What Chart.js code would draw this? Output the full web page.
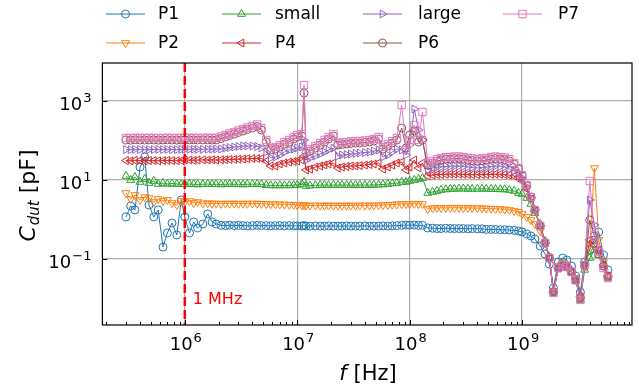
<!DOCTYPE html>
<html>
<head>
<meta charset="utf-8">
<script src="https://cdn.jsdelivr.net/npm/chart.js@4.4.0/dist/chart.umd.min.js"></script>
<style>
  html, body { margin: 0; padding: 0; background: #fff; }
  #wrap { width: 639px; height: 387px; }
</style>
</head>
<body>
<div id="wrap"><canvas id="cdutChart" width="639" height="387"></canvas></div>
<script>
// ===============================
// DATA (frequency in Hz, capacitance in pF)
// ===============================
const freqs = [
  3.0e5, 3.3e5, 3.6e5, 4.0e5, 4.4e5, 4.8e5, 5.3e5, 5.8e5, 6.4e5, 7.0e5, 7.7e5, 8.5e5, 9.3e5,
  1.0e6, 1.1e6, 1.2e6, 1.3e6, 1.45e6, 1.6e6, 1.75e6, 1.9e6, 2.1e6, 2.3e6, 2.5e6, 2.75e6, 3.0e6, 3.3e6, 3.6e6, 4.0e6, 4.4e6, 4.8e6, 5.3e6, 5.8e6, 6.4e6, 7.0e6, 7.7e6, 8.5e6, 9.3e6,
  1.0e7, 1.1e7, 1.15e7, 1.2e7, 1.3e7, 1.45e7, 1.6e7, 1.75e7, 1.9e7, 2.1e7, 2.3e7, 2.5e7, 2.75e7, 3.0e7, 3.3e7, 3.6e7, 4.0e7, 4.4e7, 4.8e7, 5.3e7, 5.8e7, 6.4e7, 7.0e7, 7.7e7, 8.5e7, 9.3e7,
  1.0e8, 1.1e8, 1.2e8, 1.3e8, 1.45e8, 1.6e8, 1.75e8, 1.9e8, 2.1e8, 2.3e8, 2.5e8, 2.75e8, 3.0e8, 3.3e8, 3.6e8, 4.0e8, 4.4e8, 4.8e8, 5.3e8, 5.8e8, 6.4e8, 7.0e8, 7.7e8, 8.5e8, 9.3e8,
  1.0e9, 1.1e9, 1.2e9, 1.3e9, 1.45e9, 1.6e9, 1.75e9, 1.9e9, 2.1e9, 2.3e9, 2.5e9, 2.75e9, 3.0e9, 3.3e9, 3.6e9, 4.0e9, 4.4e9, 4.8e9, 5.3e9, 5.8e9
];

const p1 = [
  1.16, 2.2, 1.74, 21.3, 38, 2.33, 1.16, 1.74, 0.2, 0.455, 0.815, 0.405, 3.12,
  1.16, 0.455, 0.864, 0.609, 0.769, 1.38, 0.864, 0.769, 0.71, 0.70, 0.72, 0.70, 0.71, 0.70, 0.69, 0.70, 0.71, 0.70, 0.70, 0.69, 0.70, 0.70, 0.69, 0.70, 0.69,
  0.69, 0.68, 0.70, 0.68, 0.68, 0.69, 0.68, 0.68, 0.69, 0.68, 0.68, 0.68, 0.69, 0.68, 0.68, 0.68, 0.69, 0.68, 0.68, 0.68, 0.69, 0.68, 0.69, 0.70, 0.71, 0.72,
  0.72, 0.72, 0.71, 0.71, 0.61, 0.60, 0.59, 0.59, 0.60, 0.59, 0.59, 0.59, 0.59, 0.58, 0.59, 0.58, 0.58, 0.56, 0.56, 0.56, 0.55, 0.55, 0.54, 0.53, 0.51,
  0.483, 0.43, 0.382, 0.321, 0.213, 0.134, 0.074, 0.0185, 0.084, 0.106, 0.094, 0.066, 0.037, 0.0146, 0.084, 0.169, 0.303, 0.483, 0.126, 0.053
];

const p2 = [
  4.69, 3.3, 4.17, 3.12, 3.71, 3.5, 2.77, 3.3, 2.94, 3.12, 2.62, 2.33, 2.94,
  2.77, 2.94, 2.62, 2.77, 2.55, 2.6, 2.52, 2.55, 2.5, 2.54, 2.52, 2.55, 2.5, 2.53, 2.52, 2.55, 2.53, 2.5, 2.48, 2.45, 2.44, 2.42, 2.4, 2.38, 2.36,
  2.3, 2.28, 2.3, 2.27, 2.26, 2.27, 2.25, 2.26, 2.27, 2.25, 2.26, 2.25, 2.27, 2.26, 2.25, 2.27, 2.26, 2.28, 2.27, 2.3, 2.32, 2.35, 2.38, 2.42, 2.47, 2.47,
  2.48, 2.5, 2.48, 2.47, 1.84, 1.95, 1.96, 1.97, 1.96, 1.97, 1.98, 1.97, 1.96, 1.96, 1.95, 1.94, 1.93, 1.9, 1.88, 1.86, 1.84, 1.8, 1.74, 1.64, 1.55,
  1.38, 1.16, 0.97, 0.769, 0.512, 0.254, 0.106, 0.0155, 0.066, 0.079, 0.07, 0.05, 0.031, 0.011, 0.07, 0.226, 20.1, 0.303, 0.084, 0.039
];

const small = [
  12.6, 10, 11.9, 8.9, 10.6, 8.39, 9.43, 7.92, 8.39, 7.92, 8.15, 7.92, 7.8,
  7.8, 7.9, 7.8, 7.7, 7.8, 7.9, 7.8, 7.8, 7.7, 7.8, 7.9, 7.8, 7.8, 7.7, 7.8, 7.8, 7.9, 7.8, 7.4, 7.3, 7.25, 7.3, 7.25, 7.3, 7.4,
  7.47, 7.92, 8.9, 7.05, 7.2, 7.3, 7.4, 7.47, 7.4, 7.5, 7.4, 7.47, 7.5, 7.4, 7.47, 7.5, 7.4, 7.47, 7.5, 7.6, 7.7, 7.92, 8.15, 8.39, 8.9, 8.9,
  9.43, 10, 10.6, 11.2, 4.69, 4.97, 5.27, 5.58, 5.75, 5.92, 5.95, 6.0, 6.05, 5.95, 5.9, 5.95, 6.0, 5.95, 5.9, 5.85, 5.8, 5.75, 5.58, 5.27, 4.69,
  4.42, 3.5, 2.47, 1.46, 0.769, 0.286, 0.112, 0.0155, 0.059, 0.07, 0.063, 0.047, 0.028, 0.0092, 0.053, 0.106, 0.169, 0.126, 0.07, 0.037
];

const p4 = [
  31, 30.5, 31.5, 31, 30.8, 31.2, 31, 30.5, 31, 31.3, 31, 30.8, 31,
  32, 32, 31.5, 32, 32.3, 32, 32.5, 32, 32.3, 32.5, 33, 33.2, 33.5, 34, 34.5, 35, 35, 35, 30.2, 22.6, 22.6, 25.4, 26.9, 28.5, 29.3,
  30.2, 32, 40.4, 17.9, 18.9, 21.3, 22.6, 23.9, 25.4, 26.9, 20.1, 21.3, 22, 22.6, 22.6, 23.2, 23.9, 24.6, 25.4, 26.9, 18.9, 21.3, 23.9, 26.9, 28.5, 17.9,
  21.3, 32, 20.1, 26.9, 12.6, 13.3, 13.7, 13.8, 13.9, 14, 14.1, 14, 13.9, 13.8, 13.7, 13.6, 13.7, 13.8, 13.9, 14, 13.9, 13.7, 13.3, 12.6, 11.9,
  9.43, 5.92, 3.3, 1.64, 0.685, 0.254, 0.106, 0.0146, 0.059, 0.07, 0.063, 0.047, 0.031, 0.011, 0.066, 0.303, 0.226, 0.169, 0.07, 0.037
];

const large = [
  59, 58.5, 59.5, 59, 58.8, 59.2, 59, 59.5, 59, 59.3, 59, 58.8, 59.5,
  59.5, 59.8, 60, 59.5, 60, 60.3, 60, 60.5, 60.8, 64.5, 66.4, 68.4, 70.4, 72.5, 72.5, 72.5, 70.4, 64.5, 51, 36, 38.1, 42.9, 51, 57.4, 60.8,
  64.5, 68.4, 103, 32, 36, 40.4, 45.4, 51.1, 57.4, 64.5, 40.4, 42.9, 44, 45.4, 47, 48.2, 49.6, 51.1, 54.1, 57.4, 38.1, 42.9, 51.1, 60.8, 57.4, 42.9,
  76.8, 627, 184, 103, 17.9, 20.1, 21.3, 21.3, 22, 22, 22.6, 22.6, 22, 21.3, 20.7, 20.1, 20.7, 21.3, 22, 22.6, 22, 21.3, 18.9, 16.8, 15,
  11.2, 6.65, 3.5, 1.74, 0.685, 0.254, 0.106, 0.0146, 0.059, 0.07, 0.063, 0.047, 0.031, 0.0103, 0.07, 3.12, 0.726, 0.169, 0.066, 0.037
];

const p6 = [
  103, 102, 104, 103, 102.5, 103.5, 103, 102, 103, 104, 103, 102.5, 103,
  103, 103.5, 104, 103, 103.5, 104, 103, 103.5, 112, 122.5, 134, 146, 160, 174, 190, 207, 226, 184, 91.5, 57.4, 60.8, 68.4, 81.4, 91.5, 109,
  122.5, 130, 1595, 48.2, 54.1, 64.5, 76.8, 91.5, 109, 130, 76.8, 79, 81.4, 84, 86.3, 86.3, 89, 91.5, 97, 109, 60.8, 72.5, 86.3, 103, 207, 64.5,
  138, 174, 91.5, 103, 23.9, 26.9, 30.2, 32, 33.9, 33.9, 35, 35, 33.9, 32, 31, 30.2, 31, 32, 33.9, 35, 33.9, 33, 30.2, 25.4, 18.9,
  12.6, 7.05, 3.71, 1.74, 0.685, 0.254, 0.106, 0.0146, 0.059, 0.07, 0.063, 0.047, 0.029, 0.0103, 0.066, 0.97, 0.382, 0.134, 0.066, 0.035
];

const p7 = [
  116, 115, 117, 116, 115.5, 116.5, 116, 115, 116, 117, 116, 115.5, 116,
  116, 116.5, 117, 116, 116.5, 117, 116, 116.5, 126, 138, 150, 164, 179, 195, 213, 233, 254, 207, 103, 64.5, 68.4, 76.8, 91.5, 103, 122.5,
  138, 146, 2540, 54.1, 60.8, 72.5, 86.3, 103, 122.5, 146, 86.3, 89, 91.5, 94, 97, 97, 100, 103, 109, 122.5, 68.4, 81.4, 97, 115.6, 792, 57.4,
  103, 247, 103, 527, 26.9, 30.2, 33.9, 36, 38.1, 38.1, 39.2, 39.2, 38.1, 36, 35, 33.9, 35, 36, 38.1, 39.2, 38.1, 37, 33.9, 26.9, 20.1,
  13.3, 7.47, 3.71, 1.74, 0.685, 0.254, 0.106, 0.0138, 0.059, 0.07, 0.063, 0.047, 0.029, 0.0092, 0.07, 9.43, 0.405, 0.15, 0.059, 0.033
];

// ticks / labels
const xDecades = [6, 7, 8, 9];
const yDecades = [-1, 1, 3];
const markerFreq = 1e6;
const markerLabel = '1 MHz';

// ===============================
// STYLE
// ===============================
const FONT = '"DejaVu Sans", sans-serif';

const seriesDefs = [
  { label: 'P1',    data: p1,    color: '#1f77b4', style: 'circle',   rot: 0,   r: 4 },
  { label: 'P2',    data: p2,    color: '#ff7f0e', style: 'triangle', rot: 180, r: 4.6 },
  { label: 'small', data: small, color: '#2ca02c', style: 'triangle', rot: 0,   r: 4.6 },
  { label: 'P4',    data: p4,    color: '#d62728', style: 'triangle', rot: 270, r: 4.6 },
  { label: 'large', data: large, color: '#9467bd', style: 'triangle', rot: 90,  r: 4.6 },
  { label: 'P6',    data: p6,    color: '#8c564b', style: 'circle',   rot: 0,   r: 4 },
  { label: 'P7',    data: p7,    color: '#e377c2', style: 'rect',     rot: 0,   r: 5.2 }
];

const datasets = seriesDefs.map((s, i) => ({
  label: s.label,
  data: freqs.map((f, k) => ({ x: f, y: s.data[k] })),
  borderColor: s.color,
  backgroundColor: 'rgba(0,0,0,0)',
  borderWidth: 1,
  pointStyle: s.style,
  pointRotation: s.rot,
  pointRadius: s.r,
  pointBorderWidth: 1,
  pointBackgroundColor: 'rgba(0,0,0,0)',
  pointBorderColor: s.color,
  tension: 0,
  fill: false,
  order: seriesDefs.length - i
}));

// "10" com expoente em sobrescrito
function drawPow(ctx, exp, x, y, align) {
  ctx.font = '18px ' + FONT;
  const wBase = ctx.measureText('10').width;
  ctx.font = '13px ' + FONT;
  const wExp = ctx.measureText(exp).width;
  const total = wBase + 1 + wExp;
  const x0 = align === 'right' ? x - total : x - total / 2;
  ctx.textAlign = 'left';
  ctx.textBaseline = 'alphabetic';
  ctx.font = '18px ' + FONT;
  ctx.fillText('10', x0, y);
  ctx.font = '13px ' + FONT;
  ctx.fillText(exp, x0 + wBase + 1, y - 8);
}

function expText(d) {
  return String(d).replace('-', '\u2212');
}

// ===============================
// PLUGIN: axes, ticks, legend, marker line
// ===============================
const decorPlugin = {
  id: 'decor',
  afterDatasetsDraw(chart) {
    const ctx = chart.ctx;
    const a = chart.chartArea;
    const xs = chart.scales.x;
    const px = xs.getPixelForValue(markerFreq);
    ctx.save();
    ctx.strokeStyle = '#ff0000';
    ctx.lineWidth = 2.5;
    ctx.setLineDash([9, 4]);
    ctx.beginPath();
    ctx.moveTo(px, a.top);
    ctx.lineTo(px, a.bottom);
    ctx.stroke();
    ctx.setLineDash([]);
    ctx.fillStyle = '#ff0000';
    ctx.font = '16px ' + FONT;
    ctx.textAlign = 'left';
    ctx.textBaseline = 'alphabetic';
    ctx.fillText(markerLabel, px + 8, 304);
    ctx.restore();
  },
  afterDraw(chart) {
    const ctx = chart.ctx;
    const a = chart.chartArea;
    const xs = chart.scales.x;
    const ys = chart.scales.y;
    ctx.save();

    // frame
    ctx.strokeStyle = '#000';
    ctx.lineWidth = 1.2;
    ctx.strokeRect(a.left, a.top, a.right - a.left, a.bottom - a.top);

    // x ticks (inward)
    ctx.lineWidth = 1;
    ctx.beginPath();
    for (let d = 5; d <= 9; d++) {
      for (let m = 1; m <= 9; m++) {
        const v = m * Math.pow(10, d);
        if (v < xs.min || v > xs.max) continue;
        const p = Math.round(xs.getPixelForValue(v)) + 0.5;
        const len = m === 1 ? 5 : 3;
        ctx.moveTo(p, a.bottom);
        ctx.lineTo(p, a.bottom - len);
      }
    }
    // y ticks
    yDecades.forEach(d => {
      const p = Math.round(ys.getPixelForValue(Math.pow(10, d))) + 0.5;
      ctx.moveTo(a.left, p);
      ctx.lineTo(a.left + 5, p);
    });
    ctx.stroke();

    // tick labels
    ctx.fillStyle = '#000';
    xDecades.forEach(d => {
      drawPow(ctx, expText(d), xs.getPixelForValue(Math.pow(10, d)) + 1, 349.5, 'center');
    });
    yDecades.forEach(d => {
      const p = ys.getPixelForValue(Math.pow(10, d));
      drawPow(ctx, expText(d), a.left - 11, p + 9, 'right');
    });

    // x title: f [Hz]
    ctx.font = 'italic 21px ' + FONT;
    const wf = ctx.measureText('f').width;
    ctx.font = '21px ' + FONT;
    const wr = ctx.measureText(' [Hz]').width;
    let x0 = 368 - (wf + wr) / 2;
    ctx.font = 'italic 21px ' + FONT;
    ctx.fillText('f', x0, 380);
    ctx.font = '21px ' + FONT;
    ctx.fillText(' [Hz]', x0 + wf, 380);

    // y title: C_dut [pF]
    ctx.save();
    ctx.translate(35, 196);
    ctx.rotate(-Math.PI / 2);
    ctx.font = 'italic 22px ' + FONT;
    const wc = ctx.measureText('C').width;
    ctx.font = 'italic 15px ' + FONT;
    const ws = ctx.measureText('dut').width;
    ctx.font = '22px ' + FONT;
    const wp = ctx.measureText(' [pF]').width;
    let t0 = -(wc + ws + wp) / 2;
    ctx.font = 'italic 22px ' + FONT;
    ctx.fillText('C', t0, 0);
    ctx.font = 'italic 15px ' + FONT;
    ctx.fillText('dut', t0 + wc + 1, 4);
    ctx.font = '22px ' + FONT;
    ctx.fillText(' [pF]', t0 + wc + ws + 1, 0);
    ctx.restore();

    // legend (4 columns, column-major like the original)
    const colLine = [106, 222, 363, 503];
    const colText = [158, 275, 418, 558];
    const rowY = [14, 43];
    seriesDefs.forEach((s, i) => {
      const col = Math.floor(i / 2);
      const row = i % 2;
      const y = rowY[row];
      const x1 = colLine[col];
      ctx.strokeStyle = s.color;
      ctx.lineWidth = 1.2;
      ctx.beginPath();
      ctx.moveTo(x1, y);
      ctx.lineTo(x1 + 39, y);
      ctx.stroke();
      ctx.fillStyle = 'rgba(0,0,0,0)';
      ctx.lineWidth = 1;
      Chart.helpers.drawPoint(ctx, {
        pointStyle: s.style, rotation: s.rot, radius: s.r, borderWidth: 1
      }, x1 + 19.5, y);
      ctx.fillStyle = '#000';
      ctx.font = '17px ' + FONT;
      ctx.textAlign = 'left';
      ctx.textBaseline = 'middle';
      ctx.fillText(s.label, colText[col], y + 1);
    });

    ctx.restore();
  }
};

// ===============================
// CHART
// ===============================
const ctxMain = document.getElementById('cdutChart').getContext('2d');
new Chart(ctxMain, {
  type: 'line',
  data: { datasets: datasets },
  options: {
    responsive: false,
    animation: false,
    events: [],
    layout: { padding: { left: 0, right: 7, top: 63, bottom: 0 } },
    plugins: {
      legend: { display: false },
      tooltip: { enabled: false }
    },
    scales: {
      x: {
        type: 'logarithmic',
        min: 1.85e5,
        max: 9.5e9,
        afterBuildTicks: scale => {
          scale.ticks = xDecades.map(d => ({ value: Math.pow(10, d) }));
        },
        afterFit: scale => { scale.height = 62; },
        ticks: { display: false },
        grid: { color: '#b0b0b0', lineWidth: 1.2, drawTicks: false },
        border: { display: false }
      },
      y: {
        type: 'logarithmic',
        min: 0.00213,
        max: 9165,
        afterBuildTicks: scale => {
          scale.ticks = yDecades.map(d => ({ value: Math.pow(10, d) }));
        },
        afterFit: scale => { scale.width = 102.4; },
        ticks: { display: false },
        grid: { color: '#b0b0b0', lineWidth: 1.2, drawTicks: false },
        border: { display: false }
      }
    }
  },
  plugins: [decorPlugin]
});
</script>
</body>
</html>
